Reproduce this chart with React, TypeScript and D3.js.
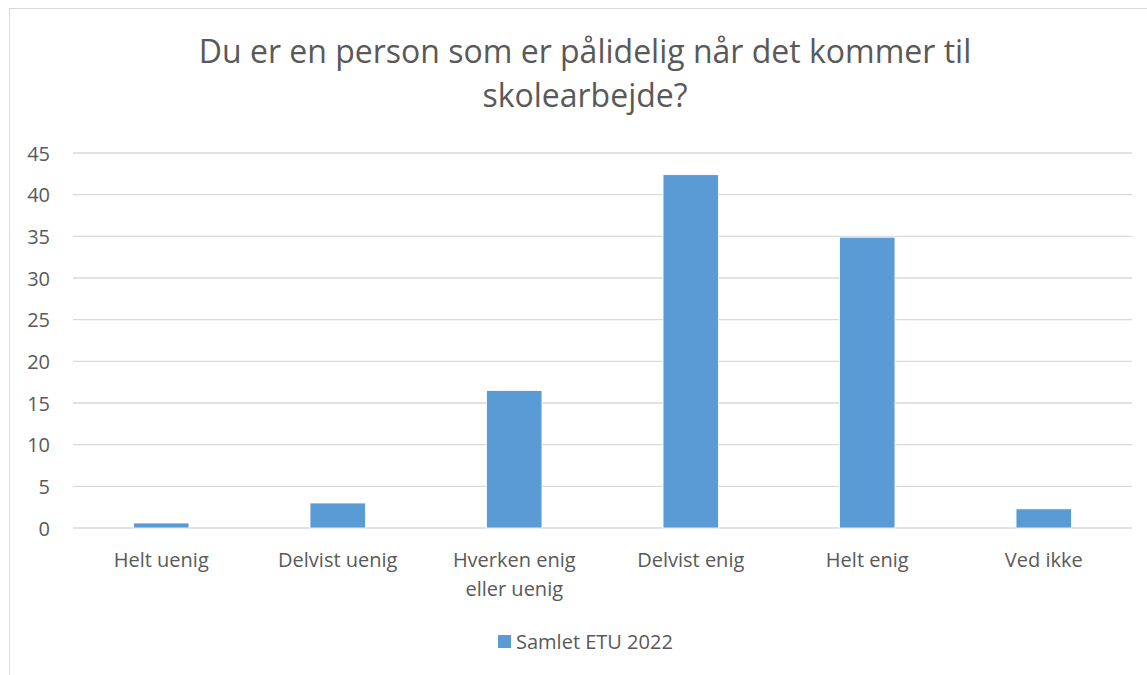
import * as d3 from "d3";

const categories = ["Helt uenig", "Delvist uenig", "Hverken enig|eller uenig", "Delvist enig", "Helt enig", "Ved ikke"];
const values = [0.6, 3.0, 16.5, 42.4, 34.9, 2.3];
const yTicks = [0, 5, 10, 15, 20, 25, 30, 35, 40, 45];
const seriesName = "Samlet ETU 2022";
const titleLines = ["Du er en person som er pålidelig når det kommer til", "skolearbejde?"];

const W = 1147;
const H = 675;
const MARGIN = { top: 153, right: 15, bottom: 147, left: 73 };
const TEXT = "#595959";
const BAR = "#5b9bd5";
const FONT = "'Open Sans', 'Noto Sans', sans-serif";

export default function App() {
  const plotRight = W - MARGIN.right;
  const plotBottom = H - MARGIN.bottom;

  const xScale = d3.scaleBand().domain(categories).range([MARGIN.left, plotRight]).paddingInner(0.686).paddingOuter(0.343);
  const yScale = d3.scaleLinear().domain([0, 45]).range([plotBottom, MARGIN.top]);

  return (
    <svg width={W} height={H} style={{ position: "absolute", left: 0, top: 0 }} fontFamily={FONT}>
      <rect x={0} y={0} width={W} height={H} fill="#fff" />
      <rect x={9.5} y={8.5} width={1152} height={700} fill="none" stroke="#d9d9d9" strokeWidth={1} />

      {titleLines.map((t, i) => (
        <text key={i} x={585} y={63 + i * 44} textAnchor="middle" fontSize={32} fill={TEXT}>
          {t}
        </text>
      ))}

      {yTicks.map((v) => (
        <g key={v}>
          <line x1={MARGIN.left} x2={plotRight} y1={yScale(v)} y2={yScale(v)} stroke="#d9d9d9" strokeWidth={1.3} />
          <text x={50} y={yScale(v)} textAnchor="end" dominantBaseline="central" fontSize={20} fill={TEXT}>
            {v}
          </text>
        </g>
      ))}

      {categories.map((c, i) => (
        <rect
          key={c}
          x={xScale(c)}
          y={yScale(values[i])}
          width={xScale.bandwidth()}
          height={yScale(0) - yScale(values[i])}
          fill={BAR}
          stroke="#fff"
          strokeWidth={0.8}
        />
      ))}

      {categories.map((c) => {
        const cx = (xScale(c) as number) + xScale.bandwidth() / 2;
        return (
          <text key={c} x={cx} y={567} textAnchor="middle" fontSize={20} fill={TEXT}>
            {c.split("|").map((l, j) => (
              <tspan key={j} x={cx} dy={j === 0 ? 0 : 29}>
                {l}
              </tspan>
            ))}
          </text>
        );
      })}

      <rect x={498} y={635} width={13} height={13} fill={BAR} />
      <text x={516} y={649} fontSize={20} fill={TEXT}>
        {seriesName}
      </text>
    </svg>
  );
}
